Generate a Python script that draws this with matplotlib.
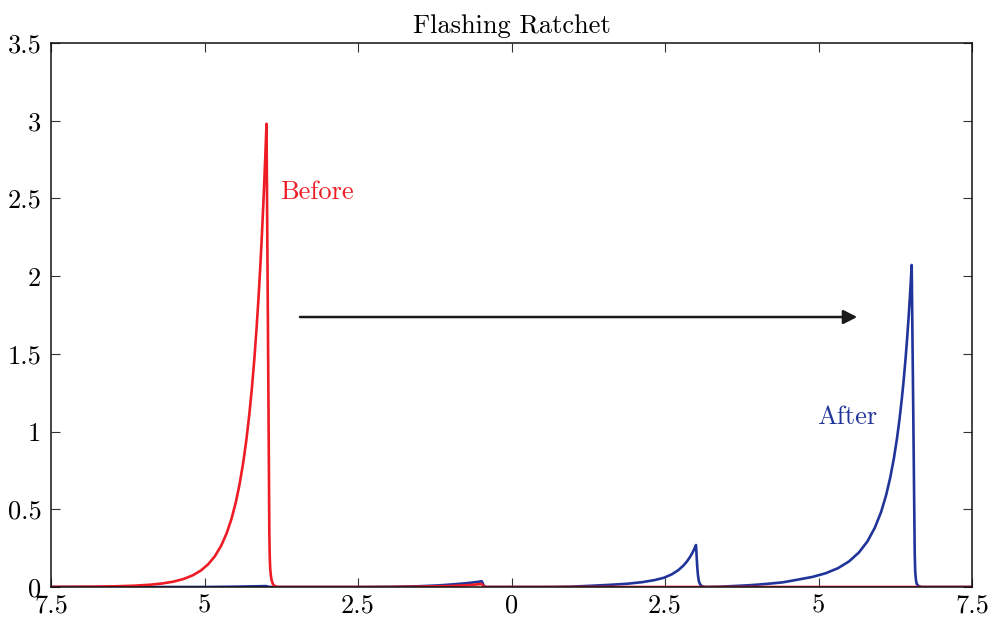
import matplotlib
matplotlib.use("Agg")
import matplotlib.pyplot as plt

# ---------------- data ----------------
before_x = [-7.5, -7.19, -6.79, -6.44, -6.14, -5.89, -5.69, -5.51, -5.34,
            -5.19, -5.06, -4.94, -4.83, -4.73, -4.64, -4.56, -4.49, -4.43,
            -4.37, -4.32, -4.27, -4.23, -4.19, -4.15, -4.12, -4.09, -4.07,
            -4.05, -4.03, -4.01, -3.99, -3.978, -3.966, -3.955, -3.944,
            -3.938, -3.93, -3.92, -3.905, -3.885, -3.86, -3.83, -3.79,
            -2.0, -1.5, -1.0, -0.7, -0.55, -0.49, -0.46, -0.44, -0.42, 7.5]
before_y = [0.0007, 0.0012, 0.0024, 0.0047, 0.0085, 0.0145, 0.0226, 0.0342, 0.0517,
            0.0754, 0.1058, 0.1462, 0.1986, 0.2645, 0.3448, 0.4390, 0.5451, 0.6586,
            0.7986, 0.9405, 1.111, 1.272, 1.458, 1.676, 1.862, 2.071, 2.225,
            2.392, 2.572, 2.768, 2.98, 2.30, 1.63, 0.99, 0.345,
            0.20, 0.12, 0.075, 0.04, 0.018, 0.007, 0.002, 0.0,
            0.0, 0.002, 0.006, 0.012, 0.017, 0.020, 0.008, 0.002, 0.0, 0.0]

after_x = [-7.5, -5.0, -4.5, -4.1, -4.0, -3.95, -3.9, -2.4, -1.9, -1.5, -1.2,
           -0.95, -0.8, -0.65, -0.55, -0.485, -0.47, -0.455, -0.44, -0.42,
           0.5, 0.7, 0.955, 1.305, 1.605, 1.885, 2.125, 2.325, 2.485, 2.615,
           2.715, 2.795, 2.855, 2.905, 2.945, 2.975, 3.005, 3.015, 3.025,
           3.037, 3.05, 3.07, 3.095, 3.13, 3.18, 3.40, 3.61, 3.90, 4.157,
           4.418, 4.658, 4.898, 5.118, 5.318, 5.498, 5.658, 5.798, 5.918,
           6.018, 6.098, 6.168, 6.228, 6.278, 6.318, 6.358, 6.388, 6.418,
           6.443, 6.468, 6.488, 6.503, 6.518, 6.531, 6.544, 6.557, 6.567,
           6.575, 6.587, 6.60, 6.63, 6.68, 7.5]
after_y = [0.0, 0.0, 0.002, 0.005, 0.006, 0.001, 0.0, 0.0, 0.0015, 0.005, 0.010,
           0.017, 0.022, 0.028, 0.033, 0.037, 0.025, 0.012, 0.004, 0.0,
           0.0, 0.0005, 0.002, 0.008, 0.014, 0.021, 0.031, 0.044, 0.0598, 0.0825,
           0.108, 0.136, 0.1632, 0.1916, 0.2189, 0.2427, 0.27, 0.20, 0.13,
           0.075, 0.04, 0.018, 0.007, 0.002, 0.0, 0.002, 0.006, 0.012, 0.020,
           0.030, 0.047, 0.0646, 0.0886, 0.1212, 0.1649, 0.222, 0.294, 0.382,
           0.481, 0.586, 0.703, 0.828, 0.955, 1.075, 1.214, 1.334, 1.470,
           1.597, 1.738, 1.863, 1.964, 2.072, 1.58, 1.10, 0.60, 0.22,
           0.10, 0.045, 0.02, 0.006, 0.0, 0.0]

xticks = [-7.5, -5.0, -2.5, 0.0, 2.5, 5.0, 7.5]
xtick_labels = ["7.5", "5", "2.5", "0", "2.5", "5", "7.5"]
yticks = [0, 0.5, 1, 1.5, 2, 2.5, 3, 3.5]
ytick_labels = ["0", "0.5", "1", "1.5", "2", "2.5", "3", "3.5"]

title = "Flashing Ratchet"
label_before = "Before"
label_after = "After"

# ---------------- style ----------------
RED = "#EE1C25"
BLUE = "#21349A"
FS = 19

plt.rcParams["font.family"] = ["cmr10", "DejaVu Serif"]
plt.rcParams["axes.unicode_minus"] = False
plt.rcParams["mathtext.fontset"] = "cm"

fig = plt.figure(figsize=(9.91, 6.18), dpi=100)
ax = fig.add_axes([51 / 991, 31 / 618, (972 - 51) / 991, (587 - 43) / 618])

ax.plot(after_x, after_y, color=BLUE, lw=1.9, solid_joinstyle="round",
        solid_capstyle="round")
ax.plot(before_x, before_y, color=RED, lw=1.9, solid_joinstyle="round",
        solid_capstyle="round")

ax.set_xlim(-7.5, 7.5)
ax.set_ylim(0, 3.5)
ax.set_xticks(xticks)
ax.set_xticklabels(xtick_labels)
ax.set_yticks(yticks)
ax.set_yticklabels(ytick_labels)

ax.tick_params(direction="in", length=6.5, width=0.8, color="#333333",
               top=True, right=True, labelsize=FS)
ax.tick_params(axis="x", pad=5)
ax.tick_params(axis="y", pad=7)
for s in ax.spines.values():
    s.set_linewidth(1.1)
    s.set_color("#111111")

ax.set_title(title, fontsize=FS, pad=7)

ax.text(-3.77, 2.497, label_before, color=RED, fontsize=FS,
        ha="left", va="baseline")
ax.text(4.97, 1.049, label_after, color=BLUE, fontsize=FS,
        ha="left", va="baseline")

ax.annotate("", xy=(5.63, 1.737), xytext=(-3.445, 1.737),
            arrowprops=dict(arrowstyle="-|>,head_length=0.55,head_width=0.28",
                            mutation_scale=15, lw=1.8, color="#1a1a1a",
                            shrinkA=0, shrinkB=0))

fig.savefig("out.png", dpi=100)
